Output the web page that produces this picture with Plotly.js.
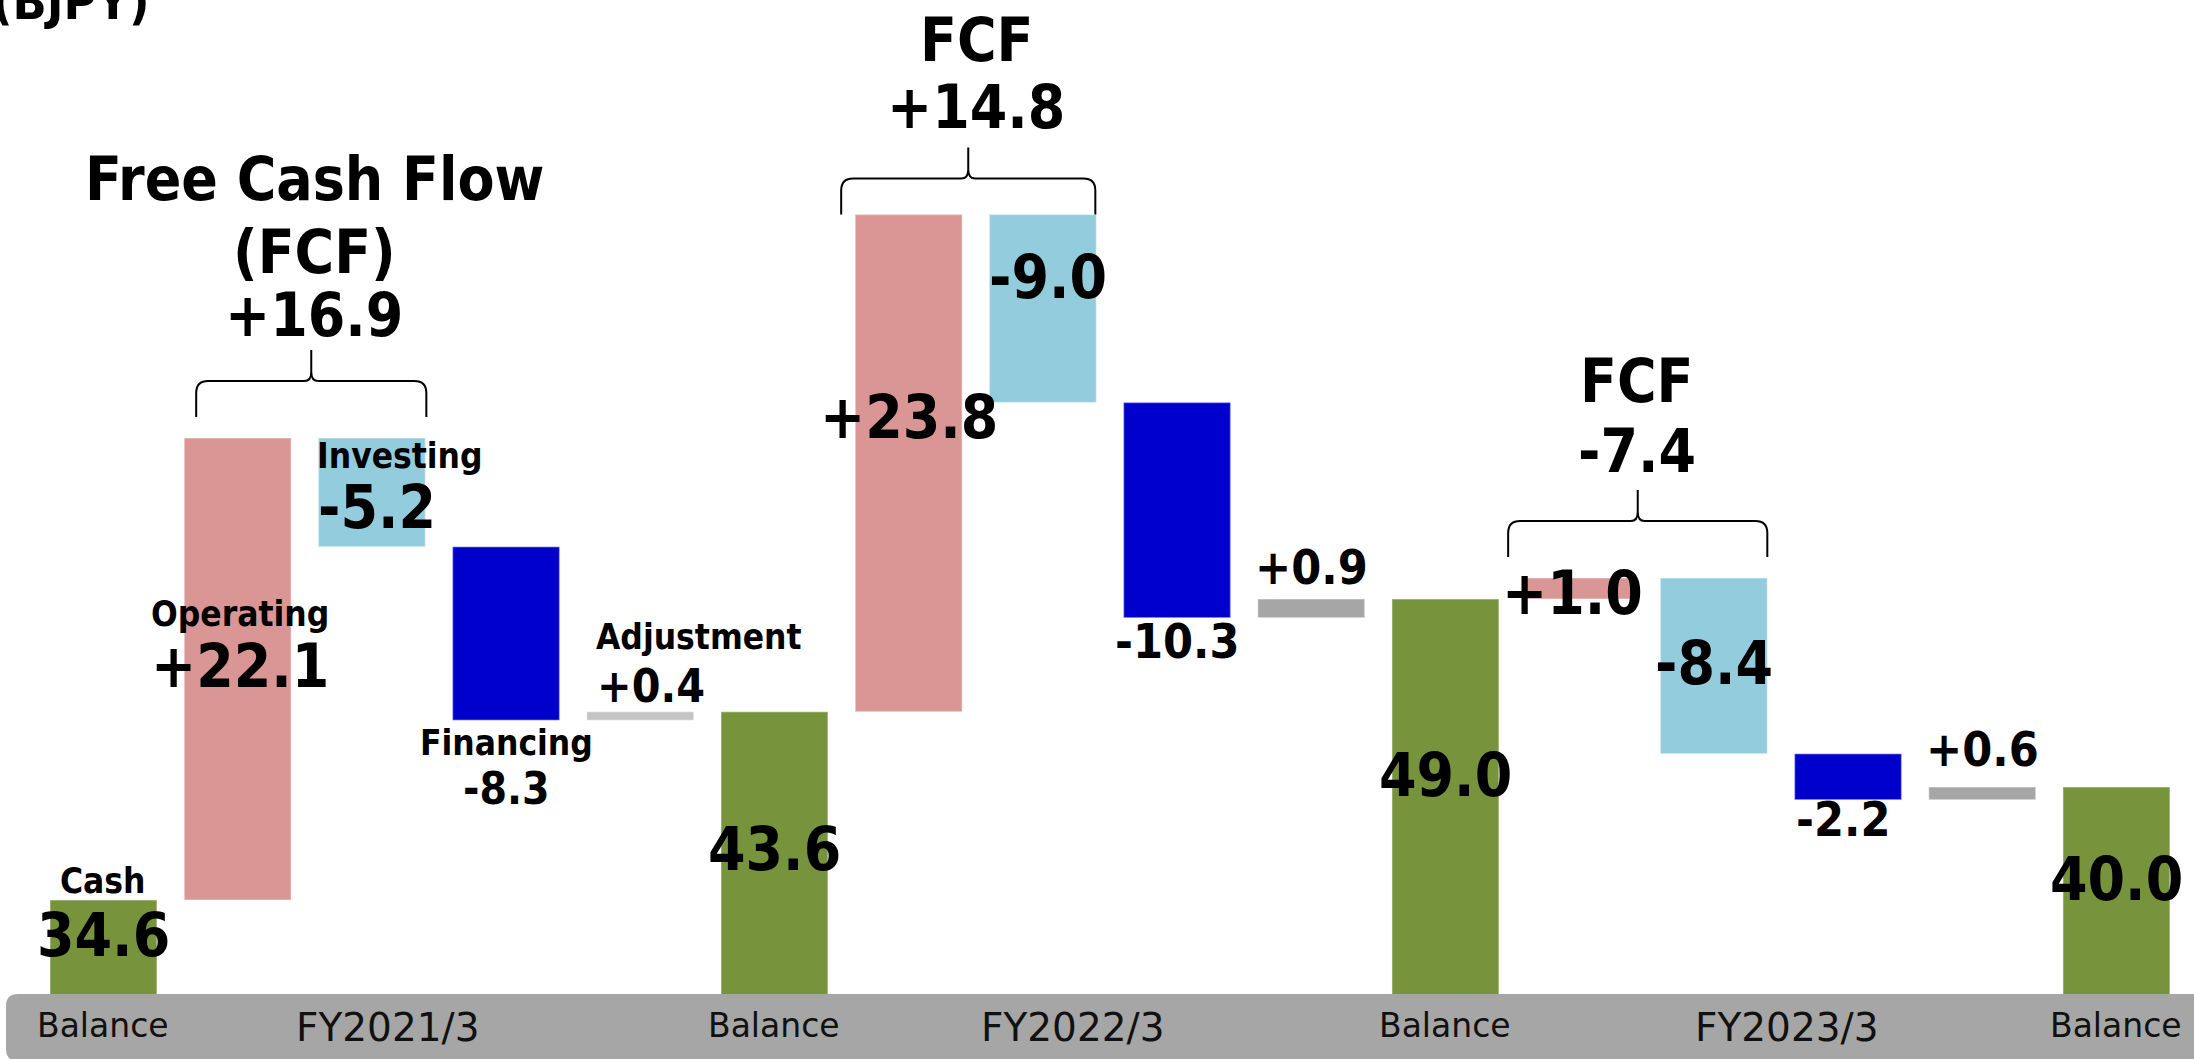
<!DOCTYPE html>
<html><head><meta charset="utf-8">
<script src="https://cdn.plot.ly/plotly-3.0.1.min.js"></script>
<style>html,body{margin:0;padding:0;background:#fff;overflow:hidden}</style>
</head><body><div id="chart" style="width:2194px;height:1059px"></div>
<script>
// ---------------- data ----------------
const unitLabel = '(BJPY)';
const periods = ['FY2021/3', 'FY2022/3', 'FY2023/3'];
const balanceLabel = 'Balance';
const firstGroupNames = ['Cash', 'Operating', 'Investing', 'Financing', 'Adjustment'];
const openingBalance = 34.6;
const operating = [22.1, 23.8, 1.0];
const investing = [-5.2, -9.0, -8.4];
const financing = [-8.3, -10.3, -2.2];
const adjustment = [0.4, 0.9, 0.6];
const closingBalance = [43.6, 49.0, 40.0];
const fcfTitles = [['Free Cash Flow', '(FCF)'], ['FCF'], ['FCF']];

// ---------------- style ----------------
const FONT = "'DejaVu Sans Condensed', 'DejaVu Sans', sans-serif";
const TICKFONT = "'DejaVu Sans', sans-serif";
const W = 2194, H = 1059, MB = 65;
const PLOT_H = H - MB;
const XR = [-0.771, 15.578];
const YR = [30.1, 77.66];
const pxX = W / (XR[1] - XR[0]);
const pxY = PLOT_H / (YR[1] - YR[0]);
const BARGAP = 0.203;
const HALF = (1 - BARGAP) / 2;
const COLORS = {Balance: '#77933C', Operating: '#D99694', Investing: '#93CDDD', Financing: '#0000CC', Adjustment: '#A6A6A6'};
const ADJ_COLORS = ['#C4C4C4', '#A6A6A6', '#A6A6A6'];

// ---------------- build bars ----------------
const xs = [], ys = [], bases = [], cols = [], kinds = [], vals = [];
let bal = openingBalance;
function pushBar(kind, base, h, val, col) {
  xs.push(xs.length); bases.push(base); ys.push(h); kinds.push(kind); vals.push(val); cols.push(col);
}
pushBar('Balance', 0, openingBalance, openingBalance, COLORS.Balance);
for (let g = 0; g < periods.length; g++) {
  const flows = [['Operating', operating[g]], ['Investing', investing[g]], ['Financing', financing[g]], ['Adjustment', adjustment[g]]];
  flows.forEach(([k, v]) => {
    const base = v >= 0 ? bal : bal + v;
    pushBar(k, base, Math.abs(v), v, k === 'Adjustment' ? ADJ_COLORS[g] : COLORS[k]);
    bal = Math.round((bal + v) * 10) / 10;
  });
  pushBar('Balance', 0, closingBalance[g], closingBalance[g], COLORS.Balance);
  bal = closingBalance[g];
}
const tops = ys.map((h, i) => bases[i] + h);
const bots = bases.map((b, i) => kinds[i] === 'Balance' ? YR[0] : b);

const trace = {
  type: 'bar', x: xs, y: ys, base: bases,
  marker: {color: cols, line: {color: 'rgba(255,255,255,0.35)', width: 1.5}},
  hoverinfo: 'skip', showlegend: false
};

// label placement (pixel offsets)
const LBL = [
  {v: {at: 'top', dy: -35, size: 60}, n: {at: 'top', dy: 18.5, size: 35}},
  {v: {at: 'top', dy: -228, size: 60, dx: 2}, n: {at: 'top', dy: -175.5, size: 35, dx: 2}},
  {v: {at: 'top', dy: -68.5, size: 60, left: -2}, n: {at: 'top', dy: -18, size: 35, left: -3}},
  {v: {at: 'bottom', dy: -68, size: 44}, n: {at: 'bottom', dy: -23, size: 35}},
  {v: {at: 'top', dy: 26, size: 46, left: 8}, n: {at: 'top', dy: 75, size: 35, left: 7}},
  {v: {at: 'top', dy: -137, size: 60}},
  {v: {at: 'top', dy: -202.6, size: 60}},
  {v: {at: 'top', dy: -62.6, size: 60, left: -2}},
  {v: {at: 'bottom', dy: -23, size: 48}},
  {v: {at: 'top', dy: 32, size: 48}},
  {v: {at: 'top', dy: -176, size: 60}},
  {v: {at: 'top', dy: -15, size: 60, dx: -7}},
  {v: {at: 'top', dy: -85, size: 60}},
  {v: {at: 'bottom', dy: -19, size: 48, dx: -5}},
  {v: {at: 'top', dy: 38, size: 48}},
  {v: {at: 'top', dy: -92, size: 60}}
];
function fmt(v, kind) {
  const s = Math.abs(v).toFixed(1);
  if (kind === 'Balance') return s;
  return (v >= 0 ? '+' : '-') + s;
}
const annotations = [];
function addLabel(i, spec, text) {
  const a = {
    text: text, showarrow: false, xref: 'x', yref: 'y',
    y: spec.at === 'top' ? tops[i] : bots[i], yanchor: 'middle', yshift: spec.dy,
    font: {family: FONT, size: spec.size, color: '#000', weight: 'bold'}
  };
  if (spec.left !== undefined) { a.x = xs[i] - HALF; a.xanchor = 'left'; a.xshift = spec.left; }
  else { a.x = xs[i]; a.xanchor = 'center'; a.xshift = spec.dx || 0; }
  annotations.push(a);
}
xs.forEach((x, i) => {
  const s = LBL[i];
  addLabel(i, s.v, fmt(vals[i], kinds[i]));
  if (s.n && i < firstGroupNames.length) addLabel(i, s.n, firstGroupNames[i]);
});

// braces + FCF titles
const BRACE = [
  {l: 12, r: 1, tip: 21, title: [171, 98], val: 35, tx: 3},
  {l: -14, r: -1, tip: 0, title: [107], val: 40, tx: 8},
  {l: -18, r: 0, tip: 21, title: [109], val: 39.5, tx: -1}
];
const BR_H = 36, BR_P = 31, RAD = 12;
const shapes = [];
for (let g = 0; g < periods.length; g++) {
  const op = 1 + 5 * g, inv = 2 + 5 * g;
  const b = BRACE[g];
  const xl = xs[op] - HALF + b.l / pxX, xr = xs[inv] + HALF + b.r / pxX, xc = (xl + xr) / 2;
  const gTop = Math.max(tops[op], tops[inv]);
  const yb = gTop + b.tip / pxY, yh = yb + BR_H / pxY, yp = yh + BR_P / pxY;
  const rx = RAD / pxX, ry = RAD / pxY, cx = 7 / pxX, cy = 9 / pxY;
  const p = [
    'M', xl, yb, 'L', xl, yh - ry, 'Q', xl, yh, xl + rx, yh,
    'L', xc - cx, yh, 'Q', xc, yh, xc, yh + cy, 'L', xc, yp,
    'L', xc, yh + cy, 'Q', xc, yh, xc + cx, yh,
    'L', xr - rx, yh, 'Q', xr, yh, xr, yh - ry, 'L', xr, yb
  ];
  let path = '';
  for (let k = 0; k < p.length; k++) {
    const t = p[k];
    if (typeof t === 'string') path += t;
    else path += t.toFixed(5) + (typeof p[k + 1] === 'number' ? ',' : ' ');
  }
  shapes.push({type: 'path', xref: 'x', yref: 'y', path: path, line: {color: '#000', width: 2}});
  const fcf = Math.round((operating[g] + investing[g]) * 10) / 10;
  const lines = fcfTitles[g];
  lines.forEach((t, k) => annotations.push({
    text: t, showarrow: false, xref: 'x', yref: 'y', x: xc, y: yp, xshift: b.tx, yshift: b.title[k],
    xanchor: 'center', yanchor: 'middle', font: {family: FONT, size: 60, color: '#000', weight: 'bold'}
  }));
  annotations.push({
    text: fmt(fcf, 'flow'), showarrow: false, xref: 'x', yref: 'y', x: xc, y: yp, xshift: b.tx, yshift: b.val,
    xanchor: 'center', yanchor: 'middle', font: {family: FONT, size: 60, color: '#000', weight: 'bold'}
  });
}

// category band + tick labels
const bl = 6 / W, rxp = 12 / W, ryp = 12 / PLOT_H, bb = -(H - PLOT_H + 2) / PLOT_H;
shapes.push({
  type: 'path', xref: 'paper', yref: 'paper', layer: 'below',
  path: `M${1.01},0 L${bl + rxp},0 Q${bl},0 ${bl},${-ryp} L${bl},${bb + ryp} Q${bl},${bb} ${bl + rxp},${bb} L1.01,${bb} Z`,
  fillcolor: '#A6A6A6', line: {width: 0}
});
xs.forEach((x, i) => {
  if (kinds[i] === 'Balance') annotations.push({
    text: balanceLabel, showarrow: false, xref: 'x', yref: 'paper', x: x, y: -(1025.5 - PLOT_H) / PLOT_H,
    xanchor: 'center', yanchor: 'middle', font: {family: TICKFONT, size: 33, color: '#111'}
  });
});
const PERIOD_POS = [2.12, 2.22, 2.54];
periods.forEach((p, g) => annotations.push({
  text: p, showarrow: false, xref: 'x', yref: 'paper', x: 5 * g + PERIOD_POS[g], y: -(1027 - PLOT_H) / PLOT_H,
  xanchor: 'center', yanchor: 'middle', font: {family: TICKFONT, size: 39, color: '#111'}
}));
annotations.push({
  text: unitLabel, showarrow: false, xref: 'paper', yref: 'paper', x: -10 / W, y: 1 - 2 / PLOT_H,
  xanchor: 'left', yanchor: 'middle', font: {family: FONT, size: 50, color: '#000', weight: 'bold'}
});

const layout = {
  width: W, height: H, margin: {l: 0, r: 0, t: 0, b: MB, pad: 0},
  paper_bgcolor: '#fff', plot_bgcolor: '#fff', bargap: BARGAP,
  xaxis: {range: XR, showgrid: false, zeroline: false, showticklabels: false, showline: false, ticks: ''},
  yaxis: {range: YR, showgrid: false, zeroline: false, showticklabels: false, showline: false, ticks: ''},
  annotations: annotations, shapes: shapes, hovermode: false, showlegend: false
};
Plotly.newPlot('chart', [trace], layout, {displayModeBar: false, staticPlot: true});
</script></body></html>
